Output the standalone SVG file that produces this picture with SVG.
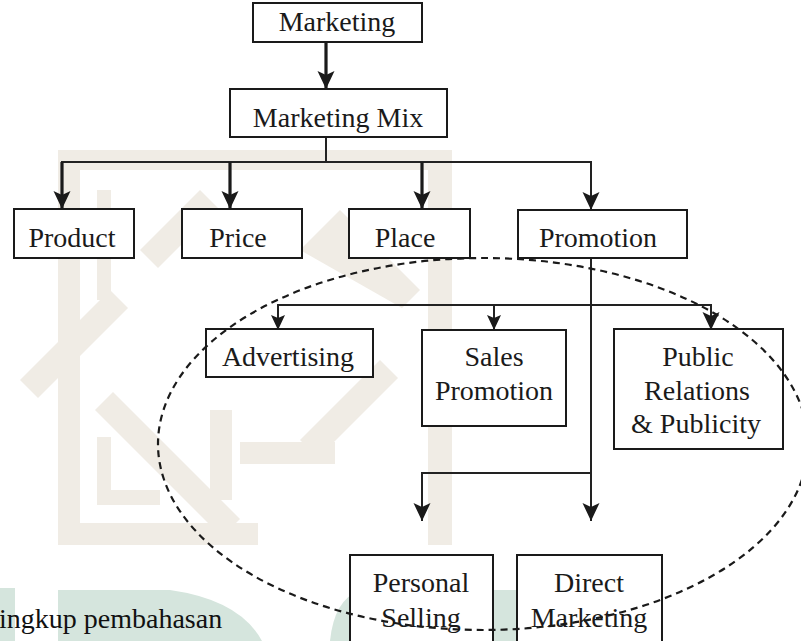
<svg xmlns="http://www.w3.org/2000/svg" width="801" height="641" viewBox="0 0 801 641">
<style>
  .bx{fill:#fff;stroke:#1a1a1a;stroke-width:2}
  .tx{font-family:"Liberation Serif",Tinos,"Times New Roman",Times,"DejaVu Serif",serif;font-size:28px;fill:#1a1a1a;text-anchor:middle}
  .ln{fill:none;stroke:#222;stroke-width:2}
  .thk{fill:none;stroke:#1a1a1a;stroke-width:3.2}
  .wm{fill:#f0ece5}
  .wg{fill:#d5e5dd}
</style>
<defs>
  <marker id="ah" markerUnits="userSpaceOnUse" markerWidth="20" markerHeight="18" refX="18" refY="8.5" orient="auto">
    <path d="M0,0 L18,8.5 L0,17 L4,8.5 z" fill="#1a1a1a"/>
  </marker>
  <marker id="as" markerUnits="userSpaceOnUse" markerWidth="16" markerHeight="14" refX="15" refY="7" orient="auto">
    <path d="M0,0 L15,7 L0,14 L3,7 z" fill="#1a1a1a"/>
  </marker>
</defs>
<rect width="801" height="641" fill="#fff"/>
<g id="watermark">
  <rect class="wm" x="58" y="150" width="22" height="395"/>
  <rect class="wm" x="58" y="523" width="200" height="22"/>
  <rect class="wm" x="58" y="150" width="394" height="20"/>
  <rect class="wm" x="428" y="150" width="24" height="395"/>
  <rect class="wm" x="97" y="190" width="14" height="110"/>
  <rect class="wm" x="97" y="437" width="14" height="68"/>
  <rect class="wm" x="97" y="490" width="63" height="15"/>
  <polygon class="wm" points="20,380 110,290 128,308 38,398"/>
  <polygon class="wm" points="95,410 113,392 240,519 222,537"/>
  <polygon class="wm" points="300,440 380,360 398,378 318,458"/>
  <rect class="wm" x="240" y="442" width="95" height="22"/>
  <rect class="wm" x="210" y="410" width="22" height="90"/>
  <polygon class="wm" points="140,250 200,190 218,208 158,268"/>
  <polygon class="wm" points="300,250 340,210 420,290 402,308"/>
  <rect class="wg" x="0" y="588" width="15" height="53"/>
  <path class="wg" d="M58,641 L58,590 L170,590 Q240,600 262,641 Z"/>
  <path class="wg" d="M330,641 Q334,600 360,590 L542,590 L542,641 Z"/>
</g>
<g id="connectors">
  <line class="thk" x1="326" y1="42" x2="326" y2="89" marker-end="url(#ah)"/>
  <line class="ln" x1="326" y1="137" x2="326" y2="162"/>
  <line class="ln" x1="61" y1="162" x2="592" y2="162"/>
  <line class="thk" x1="62" y1="162" x2="62" y2="209" marker-end="url(#ah)"/>
  <line class="thk" x1="230" y1="162" x2="230" y2="209" marker-end="url(#ah)"/>
  <line class="thk" x1="422" y1="162" x2="422" y2="209" marker-end="url(#ah)"/>
  <line class="ln" x1="591" y1="162" x2="591" y2="210" marker-end="url(#ah)"/>
  <line class="ln" x1="591" y1="258" x2="591" y2="521" marker-end="url(#ah)"/>
  <line class="ln" x1="277" y1="305" x2="712" y2="305"/>
  <line class="ln" x1="278" y1="305" x2="278" y2="330" marker-end="url(#as)"/>
  <line class="ln" x1="494" y1="305" x2="494" y2="330" marker-end="url(#as)"/>
  <line class="ln" x1="711" y1="305" x2="711" y2="330" marker-end="url(#ah)"/>
  <line class="ln" x1="421" y1="473" x2="592" y2="473"/>
  <line class="ln" x1="422" y1="473" x2="422" y2="521" marker-end="url(#ah)"/>
</g>
<g id="n-marketing"><rect class="bx" x="253" y="3" width="169" height="39"/><text class="tx" x="337" y="31">Marketing</text></g>
<g id="n-mix"><rect class="bx" x="230" y="89" width="217" height="48"/><text class="tx" x="338" y="127">Marketing Mix</text></g>
<g id="n-product"><rect class="bx" x="14" y="209" width="120" height="49"/><text class="tx" x="72" y="247">Product</text></g>
<g id="n-price"><rect class="bx" x="182" y="209" width="120" height="49"/><text class="tx" x="238" y="247">Price</text></g>
<g id="n-place"><rect class="bx" x="349" y="209" width="121" height="49"/><text class="tx" x="405" y="247">Place</text></g>
<g id="n-promotion"><rect class="bx" x="518" y="210" width="169" height="48"/><text class="tx" x="598" y="247">Promotion</text></g>
<g id="n-advertising"><rect class="bx" x="206" y="329" width="167" height="48"/><text class="tx" x="288" y="366">Advertising</text></g>
<g id="n-sales"><rect class="bx" x="422" y="330" width="144" height="96"/><text class="tx" x="494" y="366">Sales</text><text class="tx" x="494" y="400">Promotion</text></g>
<g id="n-pr"><rect class="bx" x="614" y="329" width="169" height="120"/><text class="tx" x="698" y="366">Public</text><text class="tx" x="697" y="400">Relations</text><text class="tx" x="696" y="433">&amp; Publicity</text></g>
<g id="n-personal"><rect class="bx" x="350" y="555" width="143" height="100"/><text class="tx" x="421" y="592">Personal</text><text class="tx" x="421" y="627">Selling</text></g>
<g id="n-direct"><rect class="bx" x="517" y="555" width="145" height="100"/><text class="tx" x="589" y="592">Direct</text><text class="tx" x="589" y="627">Marketing</text></g>
<ellipse cx="483" cy="444" rx="325" ry="186" fill="none" stroke="#1a1a1a" stroke-width="2.2" stroke-dasharray="7,5"/>
<text class="tx" x="-1" y="628" style="text-anchor:start;fill:#111">ingkup pembahasan</text>
</svg>
